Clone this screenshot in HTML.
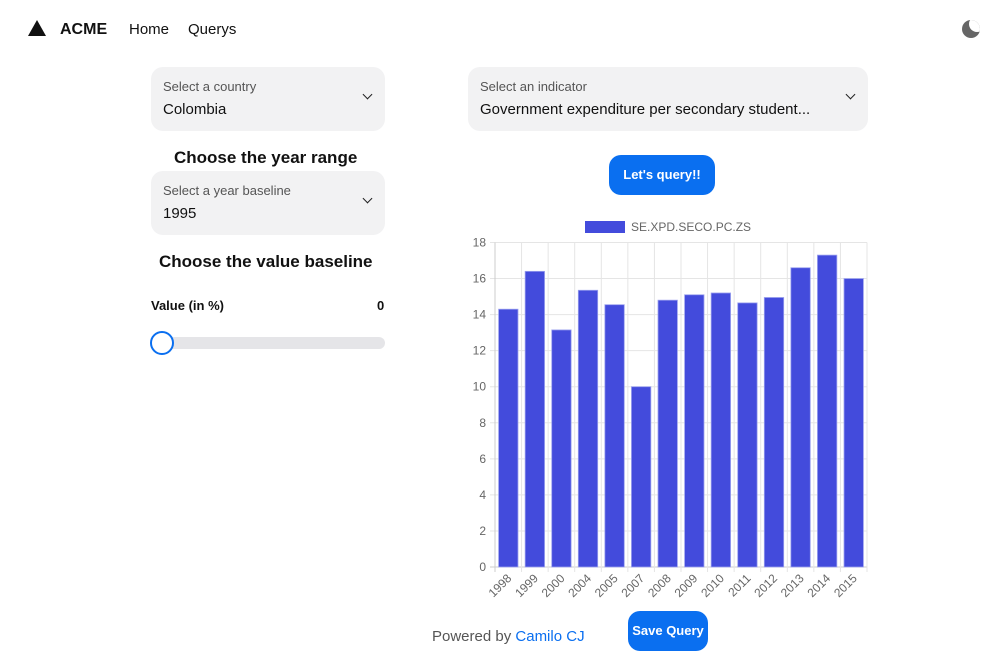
<!DOCTYPE html>
<html><head><meta charset="utf-8"><style>
body{margin:0;width:996px;height:660px;background:#fff;font-family:"Liberation Sans",sans-serif;position:relative;overflow:hidden;color:#111}
.abs{position:absolute}
.sel{position:absolute;background:#f2f2f3;border-radius:12px}
.sel .lbl{position:absolute;left:12px;top:12px;font-size:13px;color:#555}
.sel .val{position:absolute;left:12px;top:34px;font-size:15px;color:#111;white-space:nowrap}
.sel .chev{position:absolute;right:14px;top:24px;width:6px;height:6px;border-right:1.5px solid #222;border-bottom:1.5px solid #222;transform:rotate(45deg)}
.btn{position:absolute;background:#0a6ff0;color:#fff;border-radius:12px;font-size:13px;font-weight:bold;text-align:center}
h3{position:absolute;margin:0;font-size:17px;font-weight:bold}
</style></head><body>
<div class="abs" style="left:28px;top:20px;width:0;height:0;border-left:9px solid transparent;border-right:9px solid transparent;border-bottom:16px solid #111"></div>
<div class="abs" style="left:60px;top:21px;font-weight:bold;font-size:16px">ACME</div>
<div class="abs" style="left:129px;top:21px;font-size:15px">Home</div>
<div class="abs" style="left:188px;top:21px;font-size:15px">Querys</div>
<div class="abs" style="left:962px;top:20px;width:18px;height:18px;border-radius:50%;background:#666;overflow:hidden"><div style="position:absolute;left:7px;top:-4px;width:16px;height:16px;border-radius:50%;background:#fff"></div></div>

<div class="sel" style="left:151px;top:67px;width:234px;height:64px"><div class="lbl">Select a country</div><div class="val">Colombia</div><div class="chev"></div></div>
<div class="sel" style="left:468px;top:67px;width:400px;height:64px"><div class="lbl">Select an indicator</div><div class="val">Government expenditure per secondary student...</div><div class="chev"></div></div>
<h3 style="left:174px;top:148px">Choose the year range</h3>
<div class="sel" style="left:151px;top:171px;width:234px;height:64px"><div class="lbl">Select a year baseline</div><div class="val">1995</div><div class="chev"></div></div>
<h3 style="left:159px;top:252px">Choose the value baseline</h3>
<div class="abs" style="left:151px;top:298px;font-size:13px;font-weight:bold">Value (in %)</div>
<div class="abs" style="left:377px;top:298px;font-size:13px;font-weight:bold">0</div>
<div class="abs" style="left:151px;top:337px;width:234px;height:12px;border-radius:6px;background:#e5e5e8"></div>
<div class="abs" style="left:150px;top:331px;width:20px;height:20px;border-radius:50%;background:#fff;border:2px solid #0a6ff0"></div>

<div class="btn" style="left:609px;top:155px;width:106px;height:40px;line-height:40px">Let's query!!</div>

<svg class="abs" style="left:0;top:0" width="996" height="660" id="chart"></svg>

<div class="abs" style="left:432px;top:628px;font-size:15px;color:#555">Powered by <span style="color:#0a6ff0">Camilo CJ</span></div>
<div class="btn" style="left:628px;top:611px;width:80px;height:40px;line-height:40px">Save Query</div>

<script>
const categories=["1998","1999","2000","2004","2005","2007","2008","2009","2010","2011","2012","2013","2014","2015"];
const values=[14.3,16.4,13.15,15.35,14.55,10.0,14.8,15.1,15.2,14.65,14.95,16.6,17.3,16.0];
const yTicks=[0,2,4,6,8,10,12,14,16,18];
const seriesName="SE.XPD.SECO.PC.ZS";
const NS="http://www.w3.org/2000/svg";
const svg=document.getElementById('chart');
const L=495,R=867,T=242.5,B=567,yMax=18;
const bw=(R-L)/categories.length;
const x=i=>L+i*bw;
const y=v=>B-(v/yMax)*(B-T);
function mk(tag,a){const e=document.createElementNS(NS,tag);for(const k in a)e.setAttribute(k,a[k]);svg.appendChild(e);return e;}
yTicks.forEach(t=>{
  const g=mk('line',{x1:L-5,x2:R,y1:y(t),y2:y(t),stroke:t===0?'#ccc':'#e5e5e5'});
  
  
  const tx=mk('text',{x:L-9,y:y(t)+4,'text-anchor':'end','font-size':12,fill:'#666','font-family':'Liberation Sans, sans-serif'});
  tx.textContent=t;
  
  
});
for(let i=0;i<=categories.length;i++){
  const g=mk('line',{x1:x(i),x2:x(i),y1:T,y2:B+5,stroke:i===0?'#ccc':'#e5e5e5'});
  
  
}
categories.forEach((c,i)=>{
  const w=bw*0.73,cx=x(i)+bw/2;
  const r=mk('rect',{x:cx-w/2,y:y(values[i]),width:w,height:B-y(values[i]),fill:'#434bdc',stroke:'#9aa0ee','stroke-width':0.8});
  
  
  const t=mk('text',{x:cx+4,y:B+12,'text-anchor':'end','font-size':12,fill:'#666','font-family':'Liberation Sans, sans-serif',transform:`rotate(-45 ${cx+4} ${B+12})`});
  t.textContent=c;
  
  
});
const lb=mk('rect',{x:585,y:221,width:40,height:12,fill:'#434bdc'});


const lt=mk('text',{x:631,y:231,'font-size':12,fill:'#666','font-family':'Liberation Sans, sans-serif'});
lt.textContent=seriesName;


</script>
</body></html>
